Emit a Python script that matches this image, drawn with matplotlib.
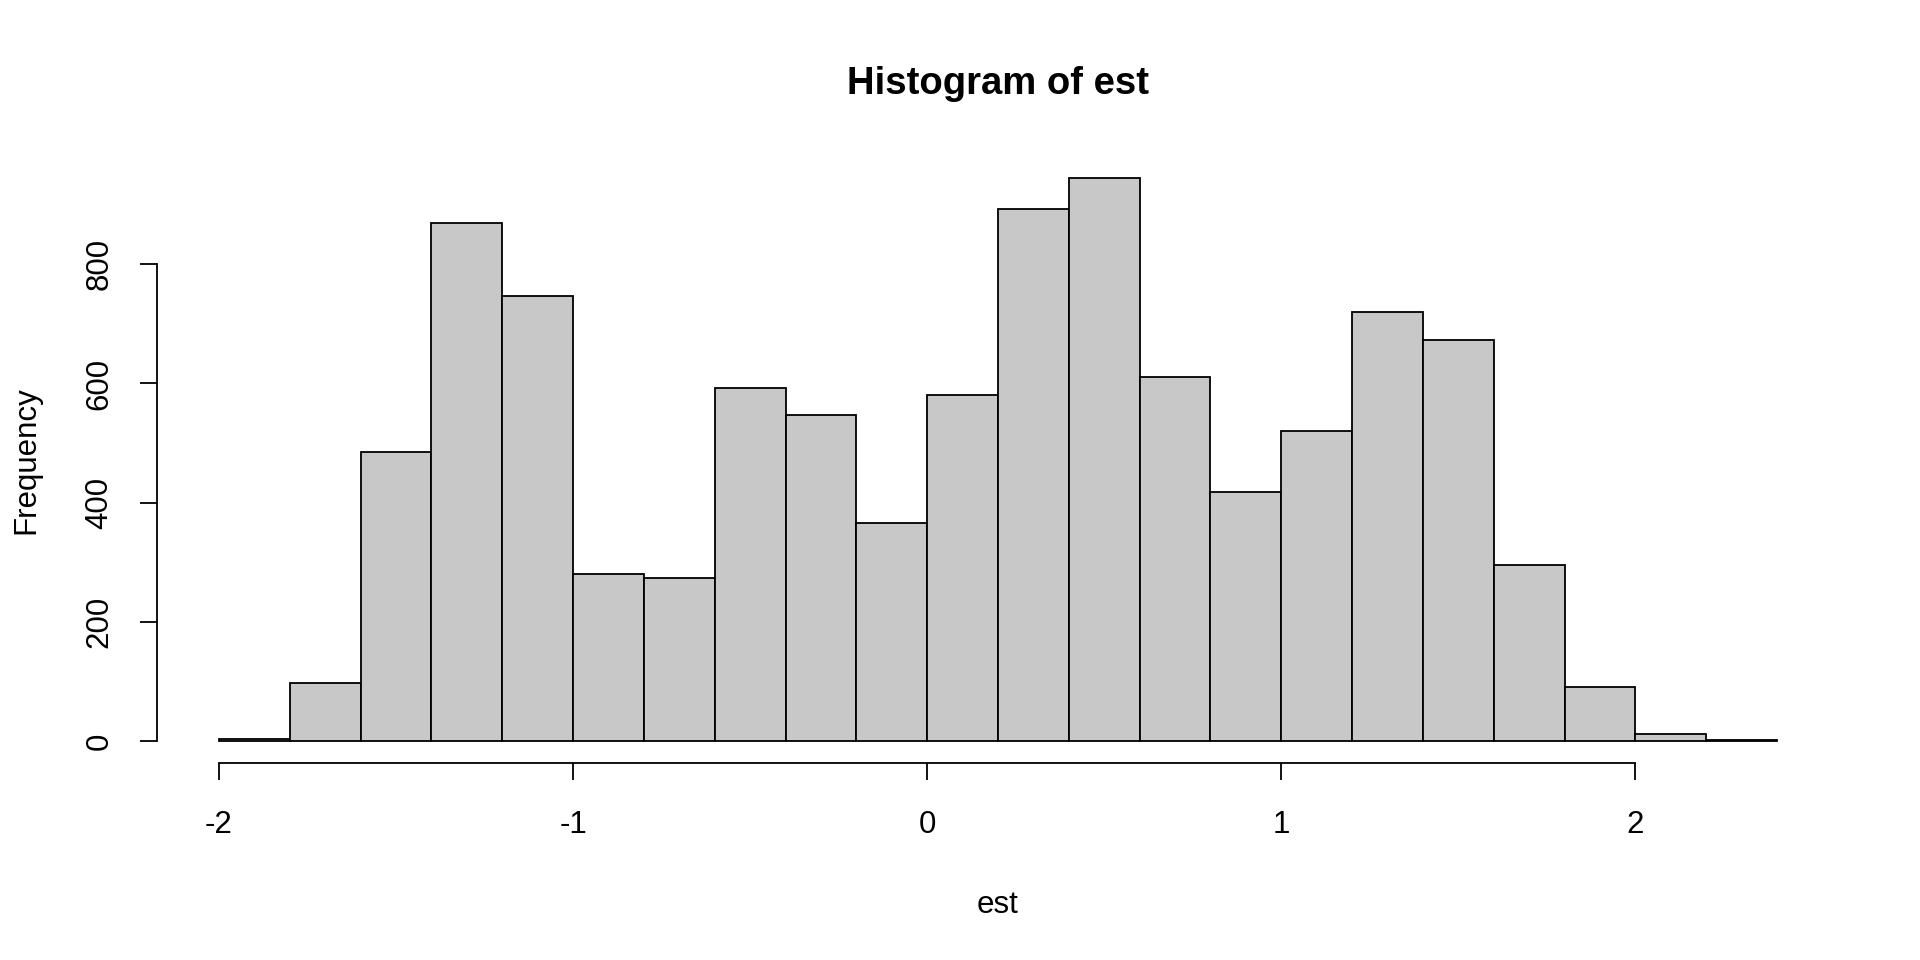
import matplotlib
matplotlib.use("Agg")
import matplotlib.pyplot as plt
import numpy as np

plt.rcParams['font.family'] = ['Liberation Sans', 'DejaVu Sans']

# Data
bin_left = [-2.0, -1.8, -1.6, -1.4, -1.2, -1.0, -0.8, -0.6, -0.4, -0.2, 0.0,
            0.2, 0.4, 0.6, 0.8, 1.0, 1.2, 1.4, 1.6, 1.8, 2.0, 2.2]
counts = [3, 97, 485, 870, 746, 280, 274, 592, 547, 366, 580,
          893, 944, 611, 418, 520, 720, 673, 296, 90, 11, 1]
bin_width = 0.2
x_ticks = [-2, -1, 0, 1, 2]
y_ticks = [0, 200, 400, 600, 800]

fig = plt.figure(figsize=(19.2, 9.6), dpi=100)
ax = fig.add_axes([0.0816, 0.2047, 0.958 - 0.0816, 0.8375 - 0.2047])

ax.bar(bin_left, counts, width=bin_width, align='edge', color='#C8C8C8',
       edgecolor='black', linewidth=1.3)

xmin, xmax = bin_left[0], bin_left[-1] + bin_width
xr = xmax - xmin
ax.set_xlim(xmin - 0.04 * xr, xmax + 0.04 * xr)
ymax = max(counts)
ax.set_ylim(-0.04 * ymax, ymax * 1.04)

for s in ['top', 'right']:
    ax.spines[s].set_visible(False)
ax.spines['left'].set_bounds(y_ticks[0], y_ticks[-1])
ax.spines['bottom'].set_bounds(x_ticks[0], x_ticks[-1])
for s in ['left', 'bottom']:
    ax.spines[s].set_linewidth(1.3)

ax.set_xticks(x_ticks)
ax.set_xticklabels([str(v) for v in x_ticks])
ax.set_yticks(y_ticks)
ax.set_yticklabels([str(v) for v in y_ticks], rotation=90, va='center')
ax.tick_params(axis='both', length=12.5, width=1.3, labelsize=22.5)
ax.tick_params(axis='x', pad=21)
ax.tick_params(axis='y', pad=18)

ax.set_xlabel('est', fontsize=22.5, labelpad=36)
ax.set_ylabel('Frequency', fontsize=22.5, labelpad=31)
ax.set_title('Histogram of est', fontsize=27.5, fontweight='bold', pad=45)

fig.savefig('out.png', dpi=100)
